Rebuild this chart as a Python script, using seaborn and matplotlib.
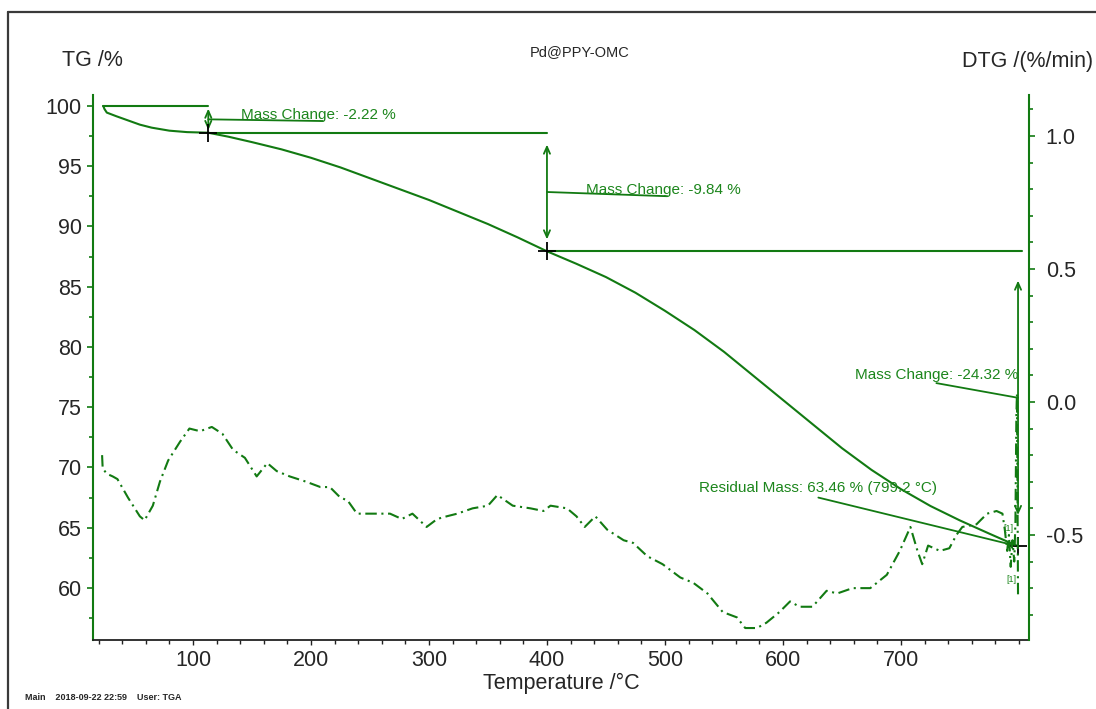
import matplotlib
matplotlib.use("Agg")
import matplotlib.pyplot as plt
from matplotlib.lines import Line2D
from matplotlib.ticker import MultipleLocator, FixedLocator
import pandas as pd
import seaborn as sns

# --- thermogravimetric data -------------------------------------------------
temp_tg = [24, 25, 27, 35, 45, 55, 65, 80, 95, 113, 130, 150, 175, 200, 225,
           250, 275, 300, 325, 350, 375, 400, 425, 450, 475, 500, 525, 550,
           575, 600, 625, 650, 675, 700, 725, 750, 775, 799.2]
tg_mass = [100.0, 99.75, 99.45, 99.15, 98.8, 98.45, 98.2, 97.95, 97.83, 97.78,
           97.45, 97.0, 96.4, 95.7, 94.9, 94.0, 93.1, 92.2, 91.2, 90.2, 89.1,
           87.94, 86.9, 85.8, 84.5, 83.0, 81.4, 79.6, 77.6, 75.6, 73.6, 71.6,
           69.8, 68.2, 66.8, 65.6, 64.5, 63.46]

temp_dtg = [23, 23.5, 27, 32, 36, 45, 55, 59, 66, 72, 79, 89, 97, 106, 116,
            125, 134, 144, 154, 163, 171, 182, 196, 208, 216, 225, 231, 239,
            253, 267, 277, 286, 298, 307, 315, 324, 337, 350, 358, 371, 386,
            397, 403, 417, 425, 432, 441, 451, 465, 473, 485, 498, 513, 524,
            536, 549, 561, 568, 578, 586, 597, 606, 614, 625, 637, 646, 659,
            674, 688, 699, 708, 714, 718, 723, 733, 741, 747, 752, 764, 773,
            781, 786, 788, 790, 791.5, 793, 794.5, 796, 797, 797.8, 798.3,
            798.7, 799.0, 799.2]
dtg_rate = [-0.20, -0.25, -0.27, -0.28, -0.29, -0.36, -0.43, -0.445, -0.39,
            -0.30, -0.22, -0.15, -0.10, -0.11, -0.094, -0.12, -0.18, -0.21,
            -0.28, -0.23, -0.26, -0.28, -0.30, -0.32, -0.32, -0.36, -0.37,
            -0.42, -0.42, -0.42, -0.44, -0.42, -0.47, -0.44, -0.43, -0.42,
            -0.40, -0.39, -0.35, -0.39, -0.40, -0.41, -0.39, -0.40, -0.43,
            -0.47, -0.43, -0.48, -0.52, -0.53, -0.58, -0.61, -0.66, -0.68,
            -0.72, -0.79, -0.81, -0.85, -0.85, -0.83, -0.79, -0.75, -0.77,
            -0.77, -0.71, -0.72, -0.70, -0.70, -0.65, -0.56, -0.47, -0.56,
            -0.61, -0.54, -0.56, -0.55, -0.50, -0.47, -0.46, -0.42, -0.41,
            -0.42, -0.48, -0.56, -0.50, -0.62, -0.52, -0.60, -0.45, -0.05,
            0.03, -0.30, -0.55, -0.73]

# labelled temperature ticks
temp_ticks = [100, 200, 300, 400, 500, 600, 700]

# mass-loss steps evaluated by the instrument software
step_temps = [113.0, 400.0, 799.2]
step_changes = [-2.22, -9.84, -24.32]
start_mass = 100.0
residual_mass = 63.46
residual_temp = 799.2
segment_end_temp = 802.5

sample_name = "Pd@PPY-OMC"
footer = "Main    2018-09-22 22:59    User: TGA"

# --- style ---------------------------------------------------------------
sns.set_style("white")
plt.rcParams["font.family"] = ["Liberation Sans", "DejaVu Sans"]
GREEN = "#127a12"
TEXT_GREEN = "#1c861c"
FS = 15.5

W, H = 1096, 709
fig = plt.figure(figsize=(W / 100, H / 100), dpi=100)
ax = fig.add_axes([93 / W, 1 - 640 / H, (1029 - 93) / W, (640 - 95) / H])
ax2 = ax.twinx()

tg_df = pd.DataFrame({"T": temp_tg, "TG": tg_mass})
dtg_df = pd.DataFrame({"T": temp_dtg, "DTG": dtg_rate})

sns.lineplot(data=tg_df, x="T", y="TG", ax=ax, color=GREEN, lw=1.5,
             sort=False, estimator=None, legend=False)
sns.lineplot(data=dtg_df, x="T", y="DTG", ax=ax2, color=GREEN, lw=1.5,
             sort=False, estimator=None, legend=False,
             linestyle=(0, (5.5, 2.2, 1.0, 2.2)))

ax.set_xlim(15.3, 808.5)
ax.set_ylim(55.68, 100.91)
ax2.set_ylim(-0.895, 1.154)

ax.xaxis.set_major_locator(FixedLocator(temp_ticks))
ax.xaxis.set_minor_locator(MultipleLocator(20))
ax.yaxis.set_major_locator(MultipleLocator(5))
ax.yaxis.set_minor_locator(MultipleLocator(2.5))
ax2.yaxis.set_major_locator(MultipleLocator(0.5))
ax2.yaxis.set_minor_locator(MultipleLocator(0.1))
ax2.yaxis.set_major_formatter(plt.FuncFormatter(lambda v, p: f"{v:.1f}"))

for a in (ax, ax2):
    a.set_xlabel("")
    a.set_ylabel("")
    a.grid(False)
    a.spines["top"].set_visible(False)

ax.spines["right"].set_visible(False)
ax2.spines["left"].set_visible(False)
ax2.spines["bottom"].set_visible(False)
ax.spines["left"].set_color(GREEN)
ax.spines["left"].set_linewidth(1.5)
ax2.spines["right"].set_color(GREEN)
ax2.spines["right"].set_linewidth(1.5)
ax.spines["bottom"].set_color("#222222")
ax.spines["bottom"].set_linewidth(1.3)

ax.tick_params(axis="x", which="both", bottom=True, direction="out",
               color="#222222", labelsize=FS, pad=3.5)
ax.tick_params(axis="x", which="major", length=3.5, width=1)
ax.tick_params(axis="x", which="minor", length=3, width=1)
ax.tick_params(axis="y", which="both", left=True, direction="out",
               color=GREEN, labelsize=FS, pad=4)
ax.tick_params(axis="y", which="major", length=4, width=1.2)
ax.tick_params(axis="y", which="minor", length=3, width=1.2)
ax2.tick_params(axis="y", which="both", right=True, direction="out",
                color=GREEN, labelsize=FS, pad=8)
ax2.tick_params(axis="y", which="major", length=4, width=1.2)
ax2.tick_params(axis="y", which="minor", length=3, width=1.2)

# --- step evaluation: reference levels, arrows, crosses -------------------
levels = [start_mass]
for ch in step_changes:
    levels.append(levels[-1] + ch)

seg_starts = [temp_tg[0]] + step_temps[:-1]
seg_ends = step_temps[:-1] + [segment_end_temp]
for lvl, t0, t1 in zip(levels[:-1], seg_starts, seg_ends):
    ax.plot([t0, t1], [lvl, lvl], color=GREEN, lw=1.5)

arrow_kw = dict(arrowstyle="<->,head_length=0.5,head_width=0.22",
                color=GREEN, lw=1.3, shrinkA=0, shrinkB=0)
mids = []
for t, hi, lo in zip(step_temps, levels[:-1], levels[1:]):
    inset = 0.1 * (hi - lo)
    ax.annotate("", xy=(t, lo + inset), xytext=(t, hi - inset),
                arrowprops=arrow_kw)
    mids.append((hi + lo) / 2)

cross_t = step_temps[:2] + [residual_temp]
cross_m = levels[1:3] + [residual_mass]
ax.plot(cross_t, cross_m, ls="none", marker="+", ms=13, mew=1.3,
        color="black", zorder=5)

labels = [f"Mass Change: {c:.2f} %" for c in step_changes]
ann_fs = 11

# first step
ax.plot([step_temps[0], 210], [mids[0], mids[0] - 0.14], color=GREEN, lw=1.3)
ax.text(141, 99.25, labels[0], color=TEXT_GREEN, fontsize=ann_fs,
        ha="left", va="center")
# second step
ax.plot([step_temps[1], 502], [mids[1], mids[1] - 0.35], color=GREEN, lw=1.3)
ax.text(433, 93.0, labels[1], color=TEXT_GREEN, fontsize=ann_fs,
        ha="left", va="center")
# third step
ax.plot([730, step_temps[2]], [77.0, mids[2]], color=GREEN, lw=1.3)
ax.text(799, 77.7, labels[2], color=TEXT_GREEN, fontsize=ann_fs,
        ha="right", va="center")
# residual mass
ax.plot([630, residual_temp], [67.5, residual_mass], color=GREEN, lw=1.3)
ax.text(529, 68.27, f"Residual Mass: {residual_mass:.2f} % ({residual_temp:.1f} °C)",
        color=TEXT_GREEN, fontsize=ann_fs, ha="left", va="center")

# segment markers on the DTG trace
ax2.text(791, -0.474, "[1]", color=TEXT_GREEN, fontsize=6.5,
         ha="center", va="center")
ax2.text(794, -0.669, "[1]", color=TEXT_GREEN, fontsize=6.5,
         ha="center", va="center")

# --- figure texts --------------------------------------------------------
fig.text(62 / W, 1 - 60 / H, "TG /%", fontsize=FS, ha="left", va="center")
fig.text(962 / W, 1 - 61 / H, "DTG /(%/min)", fontsize=FS, ha="left",
         va="center")
fig.text(580 / W, 1 - 52 / H, sample_name, fontsize=10.5, ha="center",
         va="center")
fig.text(561 / W, 1 - 683 / H, "Temperature /°C", fontsize=FS, ha="center",
         va="center")
fig.text(25 / W, 1 - 698 / H, footer, fontsize=6.5, fontweight="bold",
         ha="left", va="center")

# outer frame
fig.add_artist(Line2D([8 / W, 1.0], [1 - 12 / H] * 2, transform=fig.transFigure,
                      color="#3a3a3a", lw=1.6))
fig.add_artist(Line2D([8 / W] * 2, [0.0, 1 - 12 / H], transform=fig.transFigure,
                      color="#3a3a3a", lw=1.6))

fig.savefig("out.png", dpi=100, facecolor="white")
